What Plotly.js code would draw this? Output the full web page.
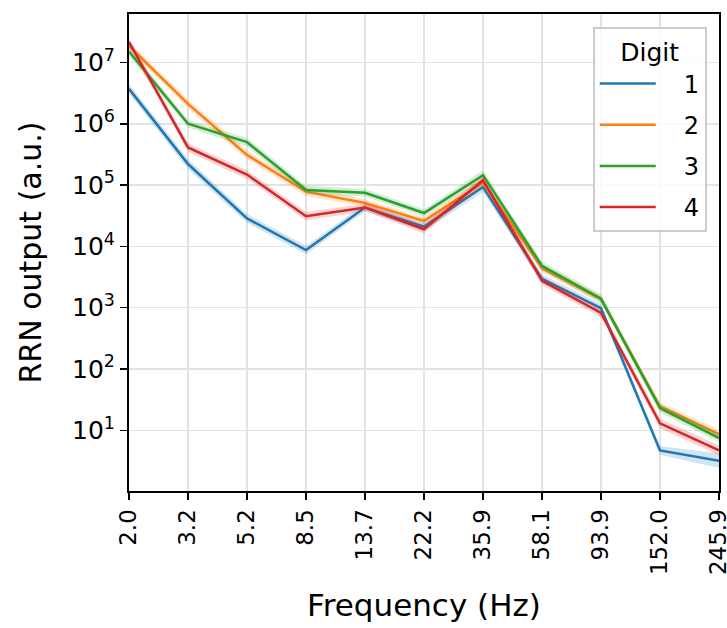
<!DOCTYPE html>
<html>
<head>
<meta charset="utf-8">
<script src="https://cdn.plot.ly/plotly-3.0.1.min.js"></script>
<style>html,body{margin:0;padding:0;background:#fff;}#chart{width:727px;height:628px;}</style>
</head>
<body>
<div id="chart"></div>
<script>
// Frequency categories (tick labels)
const freqLabels = ["2.0","3.2","5.2","8.5","13.7","22.2","35.9","58.1","93.9","152.0","245.9"];
const digitNames = ["1","2","3","4"];
// Mean RRN output per digit
const digit1 = [3.7e6, 2.2e5, 2.86e4, 8.7e3, 4.3e4, 2.1e4, 9.3e4, 2.95e3, 980, 4.7, 3.2];
const digit2 = [1.85e7, 2.1e6, 3.1e5, 7.8e4, 5.1e4, 2.6e4, 1.1e5, 4.4e3, 1.38e3, 24.5, 8.7];
const digit3 = [1.5e7, 1.0e6, 5.0e5, 8.3e4, 7.5e4, 3.5e4, 1.45e5, 4.8e3, 1.4e3, 23, 7.5];
const digit4 = [2.15e7, 4.1e5, 1.48e5, 3.1e4, 4.3e4, 1.9e4, 1.2e5, 2.75e3, 820, 13, 4.7];
// Confidence band half-width (decades) per digit
const band1 = [0.08, 0.08, 0.07, 0.07, 0.06, 0.07, 0.08, 0.07, 0.07, 0.07, 0.12];
const band2 = [0.07, 0.07, 0.07, 0.07, 0.06, 0.06, 0.07, 0.06, 0.06, 0.07, 0.07];
const band3 = [0.07, 0.06, 0.07, 0.07, 0.06, 0.06, 0.08, 0.07, 0.07, 0.07, 0.07];
const band4 = [0.07, 0.07, 0.07, 0.07, 0.06, 0.07, 0.07, 0.07, 0.07, 0.08, 0.08];

const colors = ["#1f77b4", "#ff7f0e", "#2ca02c", "#d62728"];
const fills = ["rgba(31,119,180,0.2)", "rgba(255,127,14,0.2)", "rgba(44,160,44,0.2)", "rgba(214,39,40,0.2)"];
const series = [digit1, digit2, digit3, digit4];
const bands = [band1, band2, band3, band4];

const idx = freqLabels.map((_, i) => i);
const traces = [];
series.forEach((vals, s) => {
  const hi = vals.map((v, i) => v * Math.pow(10, bands[s][i]));
  const lo = vals.map((v, i) => v / Math.pow(10, bands[s][i]));
  traces.push({
    x: idx.concat(idx.slice().reverse()),
    y: hi.concat(lo.slice().reverse()),
    type: "scatter", mode: "lines", fill: "toself",
    fillcolor: fills[s], line: {width: 0, color: fills[s]},
    showlegend: false, hoverinfo: "skip", legendgroup: "g" + s
  });
  traces.push({
    x: idx, y: vals, type: "scatter", mode: "lines",
    name: "\u00A0\u00A0\u00A0" + digitNames[s], legendgroup: "g" + s,
    line: {color: colors[s], width: 2.5}
  });
});

const tickFont = {family: "DejaVu Sans", size: 23, color: "#000"};
const layout = {
  width: 727, height: 628,
  margin: {l: 129, r: 8, t: 14, b: 137},
  paper_bgcolor: "#fff", plot_bgcolor: "#fff",
  showlegend: true,
  hovermode: false,
  font: {family: "DejaVu Sans", color: "#000"},
  xaxis: {
    range: [0, 10], tickmode: "array", tickvals: idx, ticktext: freqLabels,
    tickangle: -90, tickfont: tickFont, ticklabeloverflow: "allow",
    ticks: "outside", ticklen: 7, tickwidth: 1.6, tickcolor: "#000",
    showline: true, linecolor: "#000", linewidth: 2, mirror: true,
    showgrid: true, gridcolor: "#e3e3e3", gridwidth: 1.6, zeroline: false,
    title: {text: "Frequency (Hz)", font: {family: "DejaVu Sans", size: 31, color: "#000"}, standoff: 20}
  },
  yaxis: {
    type: "log", range: [0.011, 7.789],
    tickmode: "array",
    tickvals: [10, 100, 1e3, 1e4, 1e5, 1e6, 1e7],
    ticktext: ["10<sup>1</sup>","10<sup>2</sup>","10<sup>3</sup>","10<sup>4</sup>","10<sup>5</sup>","10<sup>6</sup>","10<sup>7</sup>"],
    tickfont: {family: "DejaVu Sans", size: 25, color: "#000"},
    ticks: "outside", ticklen: 7, tickwidth: 1.6, tickcolor: "#000",
    showline: true, linecolor: "#000", linewidth: 2, mirror: true,
    showgrid: true, gridcolor: "#e3e3e3", gridwidth: 1.6, zeroline: false,
    title: {text: "RRN output (a.u.)", font: {family: "DejaVu Sans", size: 30, color: "#000"}, standoff: 22}
  },
  legend: {
    x: 0.786, y: 0.973, xanchor: "left", yanchor: "top",
    bgcolor: "rgba(255,255,255,0.8)", bordercolor: "#cccccc", borderwidth: 2,
    font: {family: "DejaVu Sans", size: 24, color: "#000"},
    title: {text: "Digit", side: "top center", font: {family: "DejaVu Sans", size: 25, color: "#000"}},
    itemwidth: 56,
    tracegroupgap: 7
  }
};

Plotly.newPlot("chart", traces, layout, {staticPlot: true, displayModeBar: false});
</script>
</body>
</html>
